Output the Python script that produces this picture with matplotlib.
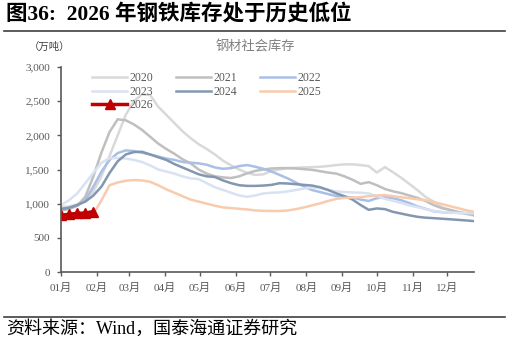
import numpy as np
import matplotlib
matplotlib.use("Agg")
import matplotlib.pyplot as plt
from matplotlib.lines import Line2D

plt.rcParams['font.family'] = ['Liberation Serif', 'Noto Sans CJK SC']

# 周度数据（按当年第几天对齐），单位：万吨
days = list(range(0, 358, 7))

s2020 = [950, 960, 990, 1050, 1180, 1400, 1700, 2000, 2300, 2500, 2600, 2590, 2420, 2300,
         2180, 2060, 1960, 1870, 1800, 1720, 1630, 1560, 1500, 1450, 1420, 1430, 1480, 1500,
         1520, 1525, 1530, 1535, 1540, 1550, 1565, 1575, 1575, 1565, 1550, 1455, 1535, 1460,
         1380, 1290, 1200, 1100, 1030, 950, 910, 880, 850, 825]
s2021 = [900, 920, 970, 1100, 1400, 1750, 2050, 2235, 2220, 2160, 2080, 1980, 1880, 1800,
         1730, 1650, 1590, 1500, 1440, 1400, 1385, 1375, 1400, 1445, 1480, 1500, 1515, 1520,
         1520, 1515, 1505, 1495, 1475, 1455, 1440, 1400, 1350, 1290, 1315, 1270, 1215, 1180,
         1155, 1120, 1085, 1040, 980, 935, 910, 880, 855, 835]
s2022 = [930, 940, 970, 1050, 1250, 1470, 1640, 1740, 1780, 1770, 1745, 1720, 1690, 1660,
         1640, 1610, 1600, 1590, 1570, 1530, 1510, 1520, 1550, 1565, 1540, 1510, 1470, 1420,
         1370, 1310, 1250, 1200, 1170, 1140, 1110, 1100, 1090, 1060, 1040, 1080, 1095, 1080,
         1050, 1010, 960, 925, 890, 875, 870, 865, 862, 860]
s2023 = [980, 1050, 1150, 1300, 1450, 1600, 1665, 1670, 1660, 1640, 1610, 1560, 1500, 1470,
         1440, 1400, 1370, 1360, 1300, 1240, 1200, 1160, 1120, 1100, 1120, 1150, 1160, 1165,
         1180, 1200, 1220, 1240, 1230, 1200, 1180, 1170, 1165, 1160, 1150, 1110, 1070, 1040,
         1010, 975, 950, 920, 895, 880, 870, 865, 862, 860]
s2024 = [920, 940, 980, 1030, 1120, 1250, 1450, 1620, 1720, 1755, 1760, 1720, 1680, 1640,
         1580, 1530, 1480, 1430, 1400, 1390, 1340, 1300, 1270, 1260, 1260, 1265, 1275, 1300,
         1295, 1285, 1275, 1265, 1240, 1200, 1150, 1110, 1060, 980, 910, 930, 920, 880,
         855, 830, 808, 795, 788, 780, 772, 763, 755, 745]
s2025 = [790, 795, 805, 815, 850, 1050, 1270, 1310, 1335, 1345, 1340, 1320, 1270, 1210,
         1160, 1110, 1060, 1030, 1000, 970, 945, 935, 925, 915, 900, 895, 893, 893,
         900, 920, 945, 975, 1005, 1040, 1070, 1085, 1090, 1095, 1110, 1120, 1125, 1110,
         1095, 1080, 1065, 1050, 1025, 995, 965, 935, 905, 880]
days_2026 = [0, 7, 14, 21, 28]
s2026 = [830, 845, 858, 862, 885]

month_days = [0, 31, 59, 90, 120, 151, 181, 212, 243, 273, 304, 334]
month_labels = ['01月', '02月', '03月', '04月', '05月', '06月',
                '07月', '08月', '09月', '10月', '11月', '12月']

fig = plt.figure(figsize=(5.09, 3.43), dpi=100)
ax = fig.add_axes([61 / 509, 1 - 272 / 343, 413 / 509, 205 / 343])

h20, = ax.plot(days, s2020, color='#d9d9d9', lw=1.8, label='2020')
h21, = ax.plot(days, s2021, color='#bfbfbf', lw=1.8, label='2021')
h22, = ax.plot(days, s2022, color='#a9bfe6', lw=1.8, label='2022')
h23, = ax.plot(days, s2023, color='#d9e2f3', lw=1.8, label='2023')
h24, = ax.plot(days, s2024, color='#8497b0', lw=1.8, label='2024')
h25, = ax.plot(days, s2025, color='#f8cbad', lw=1.8, label='2025')
h26, = ax.plot(days_2026, s2026, color='#c00000', lw=2.5, marker='^', ms=7.5,
               markerfacecolor='#c00000', markeredgecolor='#c00000', label='2026')

ax.set_xlim(0, 357)
ax.set_ylim(0, 3000)
ax.set_yticks(range(0, 3001, 500))
ax.set_yticklabels([f'{v:,}' for v in range(0, 3001, 500)])
ax.set_xticks(month_days)
ax.set_xticklabels(month_labels)

for s in ['top', 'right']:
    ax.spines[s].set_visible(False)
for s in ['left', 'bottom']:
    ax.spines[s].set_color('#595959')
    ax.spines[s].set_linewidth(1.2)
ax.tick_params(axis='both', colors='#595959', labelsize=8, length=3, width=1)
ax.tick_params(axis='x', pad=5)
ax.tick_params(axis='y', pad=5)
for lab in ax.get_xticklabels() + ax.get_yticklabels():
    lab.set_color('#595959')

# 图例按行排列：2020 2021 2022 / 2023 2024 2025 / 2026
ax.legend(handles=[h20, h23, h26, h21, h24, h22, h25], ncol=3, loc='upper left',
          bbox_to_anchor=(86 / 509, 1 - 66 / 343),
          bbox_transform=fig.transFigure, frameon=False, fontsize=8.5,
          handlelength=3.0, handletextpad=0.2, columnspacing=1.9,
          labelspacing=0.15, borderpad=0, labelcolor='#595959')

# 标题与说明
fig.text(0.012, 0.955, '图36:  2026 年钢铁库存处于历史低位', fontsize=15.5,
         fontweight='bold', va='center', ha='left')
fig.add_artist(Line2D([0.008, 0.992], [1 - 31 / 343] * 2, color='#404040', lw=1.2))
fig.text(29 / 509, 1 - 47 / 343, '（万吨）', fontsize=7.5, va='center', ha='left',
         color='#404040')
fig.text(255 / 509, 1 - 47 / 343, '钢材社会库存', fontsize=9.5, va='center',
         ha='center', color='#7f7f7f')
fig.add_artist(Line2D([0.008, 0.992], [1 - 317 / 343] * 2, color='#404040', lw=1.2))
fig.text(0.012, 1 - 329 / 343, '资料来源：Wind，国泰海通证券研究', fontsize=13,
         va='center', ha='left')

fig.savefig('out.png', dpi=100)
